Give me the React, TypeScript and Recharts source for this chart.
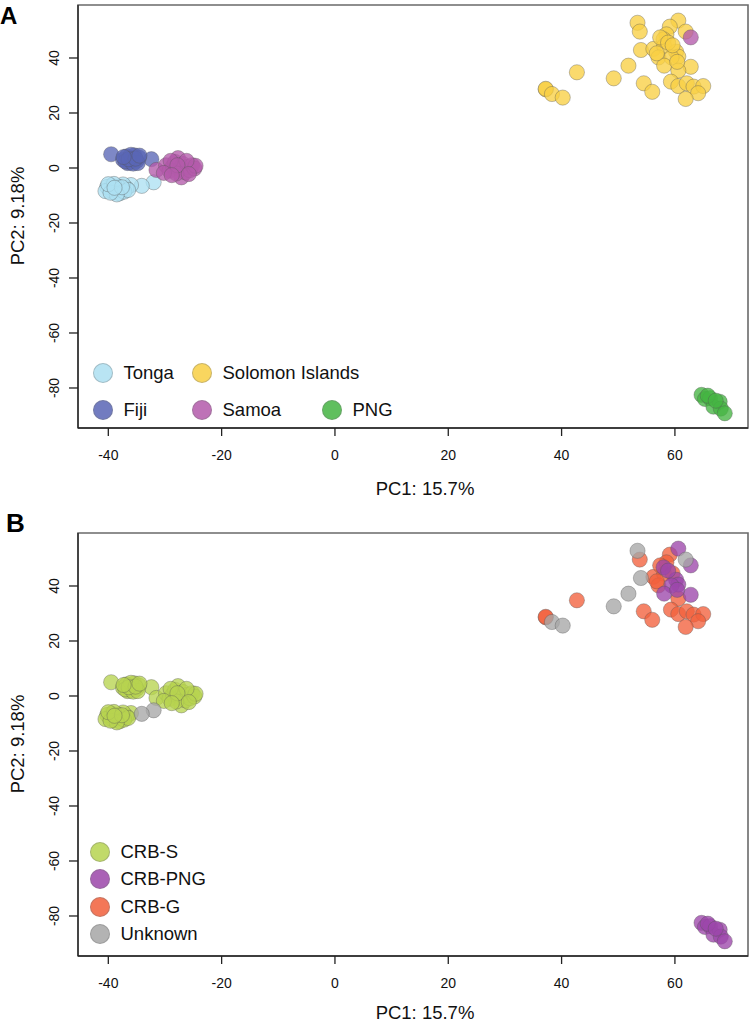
import { ScatterChart, Scatter, XAxis, YAxis, ReferenceArea } from "recharts";

// [PC1, PC2, lineage]  lineage: S = CRB-S, P = CRB-PNG, G = CRB-G, U = Unknown
const tonga = [
  [-32.0, -5.2, "U"], [-34.1, -6.5, "U"], [-36.0, -6.2, "S"], [-36.8, -7.4, "S"], [-37.4, -6.0, "S"],
  [-37.9, -8.2, "S"], [-38.3, -6.8, "S"], [-38.7, -7.6, "S"], [-39.1, -8.8, "S"], [-39.4, -6.4, "S"],
  [-39.8, -7.8, "S"], [-40.2, -6.9, "S"], [-40.5, -8.4, "S"], [-39.0, -5.8, "S"], [-38.0, -9.2, "S"],
  [-37.2, -8.6, "S"], [-36.5, -8.0, "S"], [-38.5, -9.6, "S"], [-39.6, -9.0, "S"], [-40.0, -5.9, "S"],
  [-37.6, -7.0, "S"], [-38.9, -7.2, "S"],
];

const fiji = [
  [-39.5, 5.0, "S"], [-32.4, 3.2, "S"], [-37.4, 3.0, "S"], [-36.8, 4.2, "S"], [-36.2, 2.0, "S"],
  [-35.8, 3.6, "S"], [-35.4, 4.6, "S"], [-35.0, 2.6, "S"], [-34.6, 3.8, "S"], [-36.6, 1.8, "S"],
  [-37.0, 2.4, "S"], [-35.6, 1.6, "S"], [-36.0, 4.8, "S"], [-34.8, 1.8, "S"], [-36.4, 3.2, "S"],
  [-35.2, 3.4, "S"], [-37.3, 4.0, "S"], [-34.5, 4.5, "S"],
];

const samoa = [
  [-31.5, -0.7, "S"], [-29.8, 1.0, "S"], [-29.2, -1.0, "S"], [-28.6, 0.6, "S"], [-28.2, 2.2, "S"],
  [-27.7, 3.6, "S"], [-27.4, -0.4, "S"], [-27.1, -3.4, "S"], [-26.8, 1.4, "S"], [-26.4, -1.6, "S"],
  [-26.0, 0.4, "S"], [-25.6, -0.8, "S"], [-25.2, 1.0, "S"], [-24.8, -0.2, "S"], [-24.6, 0.8, "S"],
  [-28.0, -2.0, "S"], [-29.0, 2.6, "S"], [-26.2, 2.6, "S"], [-27.8, 1.0, "S"], [-25.8, -2.2, "S"],
  [-30.2, -1.8, "S"], [-28.8, -2.6, "S"], [62.8, 47.5, "P"],
];

const solomon = [
  [53.4, 52.8, "U"], [53.8, 49.6, "G"], [60.6, 53.6, "P"], [59.1, 51.4, "G"], [61.9, 49.6, "U"],
  [58.5, 48.6, "G"], [58.0, 46.8, "P"], [54.0, 42.9, "U"], [56.2, 43.3, "G"], [58.1, 44.4, "G"],
  [60.2, 42.3, "P"], [60.6, 40.5, "P"], [57.1, 40.2, "G"], [59.4, 40.2, "P"], [58.1, 37.2, "P"],
  [62.8, 36.8, "P"], [60.6, 35.4, "G"], [51.8, 37.2, "U"], [42.7, 34.8, "G"], [49.2, 32.6, "U"],
  [54.5, 30.8, "G"], [56.0, 27.7, "G"], [59.3, 31.4, "G"], [60.6, 29.8, "G"], [62.1, 30.8, "G"],
  [63.3, 29.6, "G"], [65.0, 29.8, "G"], [64.1, 27.2, "G"], [61.9, 25.1, "G"], [37.2, 28.6, "G"],
  [37.2, 28.8, "G"], [38.3, 26.9, "U"], [40.2, 25.6, "U"], [57.4, 47.5, "G"], [56.8, 41.7, "G"],
  [58.8, 45.6, "P"], [59.6, 44.6, "G"], [60.4, 38.6, "P"],
];

const png = [
  [64.7, -82.5, "P"], [65.3, -84.0, "P"], [66.2, -83.7, "P"], [66.8, -86.8, "P"], [67.9, -85.0, "P"],
  [68.1, -87.5, "P"], [68.8, -89.2, "P"], [65.8, -82.8, "P"], [67.2, -84.6, "P"],
];

const xTicks = [-40, -20, 0, 20, 40, 60];
const yTicks = [-80, -60, -40, -20, 0, 20, 40];
const xDomain = [-45.35, 72.9];
const yDomain = [-94.55, 59.27];

const FONT = "'Liberation Sans', Arial, Helvetica, sans-serif";

const toPts = (arr) => arr.map(([x, y]) => ({ x, y }));

// panel A: populations (draw order as in original)
const popSeries = [
  { name: "Solomon Islands", color: "#f8d044", points: toPts(solomon) },
  { name: "Tonga", color: "#ade0f2", points: toPts(tonga) },
  { name: "Fiji", color: "#5a66b6", points: toPts(fiji) },
  { name: "Samoa", color: "#b35aab", points: toPts(samoa) },
  { name: "PNG", color: "#45b543", points: toPts(png) },
];

// panel B: lineages
const allPts = [...tonga, ...fiji, ...samoa, ...solomon, ...png];
const byLineage = (code) => toPts(allPts.filter((p) => p[2] === code));
const lineageSeries = [
  { name: "CRB-S", color: "#b7d450", points: byLineage("S") },
  { name: "CRB-G", color: "#f2603c", points: byLineage("G") },
  { name: "CRB-PNG", color: "#9c46aa", points: byLineage("P") },
  { name: "Unknown", color: "#a6a6a6", points: byLineage("U") },
];

const legendA = [
  { name: "Tonga", color: "#ade0f2", cx: 103, cy: 373 },
  { name: "Fiji", color: "#5a66b6", cx: 103, cy: 410 },
  { name: "Solomon Islands", color: "#f8d044", cx: 202, cy: 373 },
  { name: "Samoa", color: "#b35aab", cx: 202, cy: 410 },
  { name: "PNG", color: "#45b543", cx: 332, cy: 410 },
];

const legendB = [
  { name: "CRB-S", color: "#b7d450", cx: 100, cy: 324 },
  { name: "CRB-PNG", color: "#9c46aa", cx: 100, cy: 351 },
  { name: "CRB-G", color: "#f2603c", cx: 100, cy: 378.5 },
  { name: "Unknown", color: "#a6a6a6", cx: 100, cy: 405.5 },
];

const YTick = (props) => {
  const { x, y, payload } = props;
  return (
    <text x={x} y={y} transform={`rotate(-90 ${x} ${y})`} textAnchor="middle" fontSize={14} fill="#111" fontFamily={FONT}>
      {payload.value}
    </text>
  );
};

const XTick = (props) => {
  const { x, y, payload } = props;
  return (
    <text x={x} y={y} dy={18} textAnchor="middle" fontSize={14} fill="#111" fontFamily={FONT}>
      {payload.value}
    </text>
  );
};

const dot = (color) => (props) => (
  <circle
    cx={props.cx}
    cy={props.cy}
    r={7.6}
    fill={color}
    fillOpacity={0.78}
    stroke="#555"
    strokeOpacity={0.45}
    strokeWidth={0.8}
  />
);

function Panel({ top, letter, letterTop, letterLeft, letterSize, xLabelTop, series, legend }) {
  return (
    <div style={{ position: "absolute", left: 0, top, width: 750, height: 500, fontFamily: FONT }}>
      <ScatterChart width={750} height={500} margin={{ top: 5, right: 2, left: 0, bottom: 0 }}>
        <ReferenceArea
          x1={xDomain[0]}
          x2={xDomain[1]}
          y1={yDomain[0]}
          y2={yDomain[1]}
          fill="none"
          stroke="#6a6a6a"
          strokeWidth={1.6}
          ifOverflow="visible"
        />
        <XAxis
          type="number"
          dataKey="x"
          domain={xDomain}
          ticks={xTicks}
          allowDataOverflow
          height={72}
          tickSize={8}
          tickMargin={6}
          tick={<XTick />}
          axisLine={{ stroke: "#222", strokeWidth: 1.3 }}
          tickLine={{ stroke: "#222", strokeWidth: 1.3 }}
        />
        <YAxis
          type="number"
          dataKey="y"
          domain={yDomain}
          ticks={yTicks}
          allowDataOverflow
          width={78}
          tickSize={9}
          tickMargin={10}
          tick={<YTick />}
          axisLine={{ stroke: "#222", strokeWidth: 1.3 }}
          tickLine={{ stroke: "#222", strokeWidth: 1.3 }}
        />
        {series.map((s) => (
          <Scatter key={s.name} name={s.name} data={s.points} shape={dot(s.color)} isAnimationActive={false} />
        ))}
      </ScatterChart>

      {legend.map((l) => (
        <div
          key={l.name}
          style={{
            position: "absolute",
            left: l.cx - 10,
            top: l.cy - 12,
            height: 24,
            display: "flex",
            alignItems: "center",
            whiteSpace: "nowrap",
          }}
        >
          <span
            style={{
              width: 20,
              height: 20,
              borderRadius: "50%",
              background: l.color,
              opacity: 0.85,
              boxSizing: "border-box",
              border: "1px solid rgba(90,90,90,0.35)",
              marginRight: 10.5,
            }}
          />
          <span style={{ fontSize: 18.5, color: "#111" }}>{l.name}</span>
        </div>
      ))}

      <div
        style={{
          position: "absolute",
          left: 18,
          top: 216,
          transform: "translate(-50%, -50%) rotate(-90deg)",
          fontSize: 18.5,
          lineHeight: 1,
          color: "#111",
          whiteSpace: "nowrap",
        }}
      >
        PC2: 9.18%
      </div>
      <div
        style={{
          position: "absolute",
          left: 425,
          top: xLabelTop,
          transform: "translate(-50%, -50%)",
          fontSize: 18.5,
          lineHeight: 1,
          color: "#111",
          whiteSpace: "nowrap",
        }}
      >
        PC1: 15.7%
      </div>
      <div
        style={{
          position: "absolute",
          left: letterLeft,
          top: letterTop,
          fontSize: letterSize,
          fontWeight: "bold",
          lineHeight: 1,
          color: "#000",
        }}
      >
        {letter}
      </div>
    </div>
  );
}

export default function App() {
  return (
    <div style={{ position: "absolute", left: 0, top: 0, width: 750, height: 1024, background: "#fff", overflow: "hidden" }}>
      <Panel
        top={0}
        letter="A"
        letterTop={4}
        letterLeft={0}
        letterSize={24}
        xLabelTop={489}
        series={popSeries}
        legend={legendA}
      />
      <Panel
        top={528}
        letter="B"
        letterTop={-18}
        letterLeft={6}
        letterSize={26}
        xLabelTop={485}
        series={lineageSeries}
        legend={legendB}
      />
    </div>
  );
}
